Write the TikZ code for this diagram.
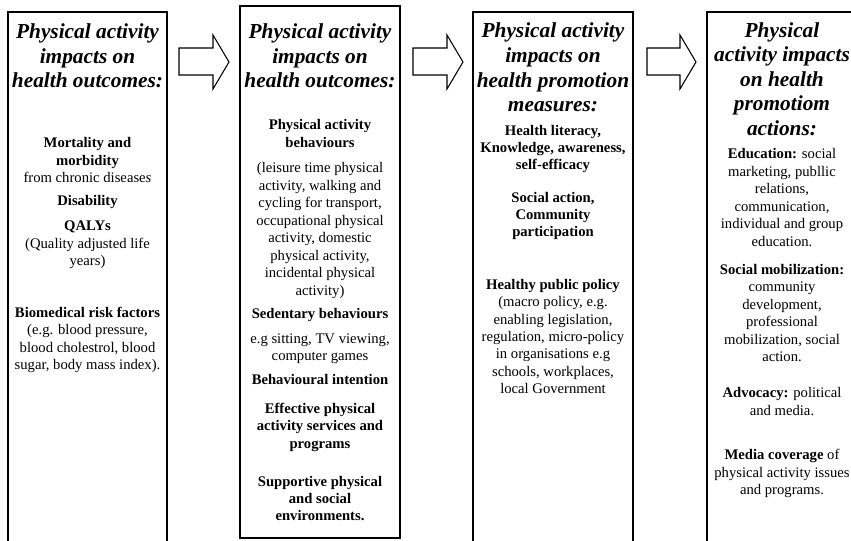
\documentclass[tikz,border=0pt]{standalone}
\usepackage{fontspec}
\setmainfont{Liberation Serif}

\begin{document}
\begin{tikzpicture}[
  x=0.75pt,y=-0.75pt,
  panel/.style={draw=black,line width=1.1pt},
  flowarrow/.style={draw=black,line width=0.8pt,fill=white,line join=miter},
  heading/.style={font=\fontsize{16}{18.4}\selectfont\bfseries\itshape,align=center,inner sep=0pt},
  body/.style={font=\fontsize{11}{13.1}\selectfont,align=center,inner sep=0pt}
]
\useasboundingbox (0,0) rectangle (851,540);
\clip (0,0) rectangle (851,540);

% Four panels; the first, third and fourth run off the page.
\draw[panel] (8,12) rectangle (167,560);
\draw[panel] (240,6) rectangle (400,538);
\draw[panel] (473,12) rectangle (633,560);
\draw[panel] (707,12) rectangle (857,560);

% Outline arrows between the panels.
\draw[flowarrow] (179,48) -- (213,48) -- (213,35) -- (229,62) -- (213,89) -- (213,75) -- (179,75) -- cycle;
\draw[flowarrow] (413,48) -- (447,48) -- (447,35) -- (463,62) -- (447,89) -- (447,75) -- (413,75) -- cycle;
\draw[flowarrow] (647,48) -- (680,48) -- (680,35) -- (696,62) -- (680,89) -- (680,75) -- (647,75) -- cycle;

% Panel 1: health outcomes.
\node[heading] (t1) at (87.5,56) {Physical activity\\impacts on\\health outcomes:};
\node[body] (mortality) at (87.5,160) {\textbf{Mortality and}\\\textbf{morbidity}\\from chronic disease\textit{s}};
\node[body] (disability) at (87.5,202) {\textbf{Disability}};
\node[body] (qalys) at (87.5,245) {\textbf{QALYs}\\(Quality adjusted life\\years)};
\node[body] (biomed) at (87.5,340) {\textbf{Biomedical risk factors}\\(e.g. blood pressure,\\blood cholestrol, blood\\sugar, body mass index).};

% Panel 2: behaviours.
\node[heading] (t2) at (320,56) {Physical activity\\impacts on\\health outcomes:};
\node[body] (pabehav) at (320,133.5) {\textbf{Physical activity}\\\textbf{behaviours}};
\node[body] (paexamples) at (320,230.5) {(leisure time physical\\activity, walking and\\cycling for transport,\\occupational physical\\activity, domestic\\physical activity,\\incidental physical\\activity)};
\node[body] (sedentary) at (320,315) {\textbf{Sedentary behaviours}};
\node[body] (sedexamples) at (320,348.5) {e.g sitting, TV viewing,\\computer games};
\node[body] (intention) at (320,379) {\textbf{Behavioural intention}};
\node[body] (services) at (320,427) {\textbf{Effective physical}\\\textbf{activity services and}\\\textbf{programs}};
\node[body] (environments) at (320,498.5) {\textbf{Supportive physical}\\\textbf{and social}\\\textbf{environments.}};

% Panel 3: promotion measures.
\node[heading] (t3) at (553,67.5) {Physical activity\\impacts on\\health promotion\\measures:};
\node[body] (literacy) at (553,149) {\textbf{Health literacy,}\\\textbf{Knowledge, awareness,}\\\textbf{self-efficacy}};
\node[body] (socialaction) at (553,216) {\textbf{Social action,}\\\textbf{Community}\\\textbf{participation}};
\node[body] (policy) at (553,336.5) {\textbf{Healthy public policy}\\(macro policy, e.g.\\enabling legislation,\\regulation, micro-policy\\in organisations e.g\\schools, workplaces,\\local Government};

% Panel 4: promotion actions.
\node[heading] (t4) at (782,79) {Physical\\activity impacts\\on health\\promotiom\\actions:};
\node[body] (education) at (782,197.5) {\textbf{Education:} social\\marketing, publlic\\relations,\\communication,\\individual and group\\education.};
\node[body] (mobilization) at (782,313) {\textbf{Social mobilization:}\\community\\development,\\professional\\mobilization, social\\action.};
\node[body] (advocacy) at (782,401.5) {\textbf{Advocacy:} political\\and media.};
\node[body] (media) at (782,473.5) {\textbf{Media coverage} of\\physical activity issues\\and programs.};
\end{tikzpicture}
\end{document}
